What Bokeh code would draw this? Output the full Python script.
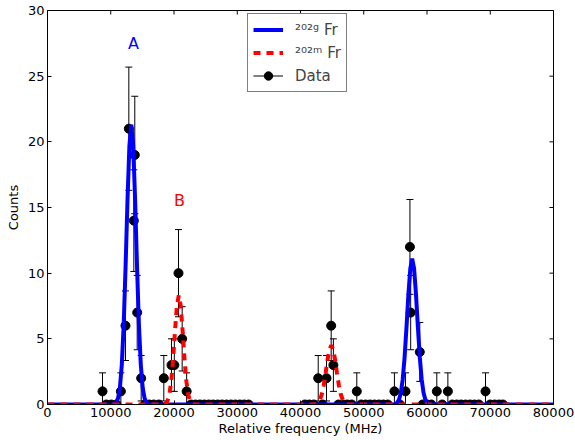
import numpy as np
from bokeh.plotting import figure
from bokeh.models import (ColumnDataSource, Legend, LegendItem,
                          Range1d, FixedTicker)
from bokeh.core.properties import value
from bokeh.embed import file_html
from bokeh.resources import INLINE

# ---- measured data (non-zero counts) ----
data_freq = [8700, 11600, 12330, 12860, 13650, 13800, 14180, 14810,
             18390, 19600, 20050, 20710, 21290, 22000,
             42800, 44110, 44850, 45200, 48900,
             54850, 56600, 57300, 57420, 58860, 61550, 63300, 69250]
data_counts = [1, 1, 6, 21, 14, 19, 7, 2,
               2, 3, 3, 10, 5, 1,
               2, 2, 6, 3, 1,
               1, 1, 12, 7, 4, 1, 1, 1]
data_err = [1.41, 1.41, 2.65, 4.69, 3.87, 4.47, 2.83, 1.73,
            1.73, 2.0, 2.0, 3.32, 2.45, 1.41,
            1.73, 1.73, 2.65, 2.0, 1.41,
            1.41, 1.41, 3.61, 2.83, 2.24, 1.41, 1.41, 1.41]
# ---- measured data (zero counts) ----
zero_freq = [9300, 10100, 10900, 15400, 16100, 16800, 17600,
             22700, 23400, 24100, 24800, 25500, 26200, 26900, 27600,
             28300, 29000, 29700, 30400, 31100, 31800,
             40700, 41400, 42100, 43500, 46000, 46700, 47400, 48100,
             49600, 50300, 51000, 51700, 52400, 53100, 53800, 55700,
             59300, 60000, 60700, 62400, 64000, 64700, 65400, 66100,
             66800, 67500, 68200, 70000, 70700, 71400, 72000]
freq_err = 350

# ---- fitted curves ----
fit_g_freq = [0, 10550, 10850, 11150, 11450, 11750, 12050, 12350, 12650, 12950,
              13250, 13550, 13850, 14150, 14450, 14750, 15050, 15350, 15650, 15950,
              54960, 55260, 55560, 55860, 56160, 56460, 56760, 57060, 57360,
              57660, 57960, 58260, 58560, 58860, 59160, 59460, 59760, 60060, 60360,
              80000]
fit_g_counts = [0, 0, 0.15, 0.47, 1.29, 3.04, 6.12, 10.57, 15.60, 19.70,
                21.3, 19.70, 15.60, 10.57, 6.12, 3.04, 1.29, 0.47, 0.15, 0,
                0, 0.12, 0.35, 0.88, 1.91, 3.60, 5.90, 8.38, 10.35,
                11.1, 10.35, 8.38, 5.90, 3.60, 1.91, 0.88, 0.35, 0.12, 0,
                0]
fit_m_freq = [0, 18360, 18660, 18960, 19260, 19560, 19860, 20160, 20460,
              20760, 21060, 21360, 21660, 21960, 22260, 22560, 22860, 23160,
              42170, 42470, 42770, 43070, 43370, 43670, 43970, 44270, 44570,
              44870, 45170, 45470, 45770, 46070, 46370, 46670, 46970, 47270, 47570,
              80000]
fit_m_counts = [0, 0, 0.07, 0.25, 0.73, 1.75, 3.46, 5.62, 7.53,
                8.3, 7.53, 5.62, 3.46, 1.75, 0.73, 0.25, 0.07, 0,
                0, 0.05, 0.14, 0.36, 0.78, 1.46, 2.39, 3.40, 4.19,
                4.5, 4.19, 3.40, 2.39, 1.46, 0.78, 0.36, 0.14, 0.05, 0,
                0]

peak_labels = ["A", "B"]
peak_label_freq = [13600, 20870]
peak_label_counts = [27.5, 15.5]
peak_label_colors = ["blue", "red"]

x_ticks = [0, 10000, 20000, 30000, 40000, 50000, 60000, 70000, 80000]
x_tick_labels = ["0", "10000", "20000", "30000", "40000", "50000", "60000", "70000", "80000"]
y_ticks = [0, 5, 10, 15, 20, 25, 30]
X_MAX = 80000
Y_MAX = 30

FONT = "DejaVu Sans"

all_freq = np.array(data_freq + zero_freq, dtype=float)
all_counts = np.array(data_counts + [0] * len(zero_freq), dtype=float)
all_err = np.array(data_err + [0] * len(zero_freq), dtype=float)

src = ColumnDataSource(dict(
    x=all_freq, y=all_counts,
    ylo=all_counts - all_err, yhi=all_counts + all_err,
    xlo=all_freq - freq_err, xhi=all_freq + freq_err,
))

p = figure(width=575, height=440, output_backend="svg", toolbar_location=None,
           x_range=Range1d(0, X_MAX), y_range=Range1d(0, Y_MAX),
           min_border_left=47, min_border_right=22, min_border_top=10,
           min_border_bottom=36, background_fill_color="white",
           border_fill_color="white")
p.xgrid.visible = False
p.ygrid.visible = False
p.outline_line_color = "black"
p.outline_line_width = 1

# error bars
p.segment(x0="x", y0="ylo", x1="x", y1="yhi", source=src, line_color="black", line_width=1)
p.scatter(x="x", y="yhi", source=src, marker="dash", size=7, line_color="black", line_width=1)
p.scatter(x="x", y="ylo", source=src, marker="dash", size=7, line_color="black", line_width=1)
hbar = p.segment(x0="xlo", y0="y", x1="xhi", y1="y", source=src, line_color="black", line_width=1)
p.scatter(x="xlo", y="y", source=src, marker="dash", angle=np.pi / 2, size=7, line_color="black", line_width=1)
p.scatter(x="xhi", y="y", source=src, marker="dash", angle=np.pi / 2, size=7, line_color="black", line_width=1)
pts = p.scatter(x="x", y="y", source=src, size=9, fill_color="black", line_color="black")

# fits
g_r = p.line(fit_g_freq, fit_g_counts, line_color="blue", line_width=4)
m_r = p.line(fit_m_freq, fit_m_counts, line_color="red", line_width=4, line_dash="7 6")

# peak labels
lsrc = ColumnDataSource(dict(x=peak_label_freq, y=peak_label_counts, t=peak_labels, c=peak_label_colors))
p.text(x="x", y="y", text="t", text_color="c", source=lsrc, text_align="center",
       text_baseline="middle", text_font=value(FONT), text_font_size="16px")

# inward ticks on top and right edges (half of each mark is clipped by the frame)
p.scatter(x_ticks, [Y_MAX] * len(x_ticks), marker="dash", angle=np.pi / 2, size=8,
          line_color="black", line_width=1)
p.scatter([X_MAX] * len(y_ticks), y_ticks, marker="dash", size=8,
          line_color="black", line_width=1)

# axes
for ax in (p.xaxis[0], p.yaxis[0]):
    ax.major_tick_in = 4
    ax.major_tick_out = 0
    ax.minor_tick_line_color = None
    ax.axis_line_color = "black"
    ax.major_label_text_font = FONT
    ax.major_label_text_font_size = "13px"
    ax.major_label_text_color = "black"
    ax.axis_label_text_font = FONT
    ax.axis_label_text_font_style = "normal"
    ax.axis_label_text_color = "black"
    ax.major_label_standoff = 3

p.xaxis.ticker = FixedTicker(ticks=x_ticks)
p.xaxis.major_label_overrides = {t: l for t, l in zip(x_ticks, x_tick_labels)}
p.yaxis.ticker = FixedTicker(ticks=y_ticks)
p.xaxis.axis_label = "Relative frequency (MHz)"
p.yaxis.axis_label = "Counts"
p.xaxis.axis_label_text_font_size = "13px"
p.yaxis.axis_label_text_font_size = "13px"
p.xaxis.axis_label_standoff = 1
p.yaxis.axis_label_standoff = 4

legend = Legend(items=[
    LegendItem(label="\u00b2\u2070\u00b2\u1d4d Fr", renderers=[g_r]),
    LegendItem(label="\u00b2\u2070\u00b2\u1d50 Fr", renderers=[m_r]),
    LegendItem(label="Data", renderers=[hbar, pts]),
], location=(200, 312), orientation="vertical")
legend.label_text_font = FONT
legend.label_text_font_size = "15px"
legend.border_line_color = "black"
legend.border_line_width = 1
legend.border_radius = 0
legend.background_fill_alpha = 1
legend.glyph_width = 30
legend.glyph_height = 21
legend.spacing = 2
legend.padding = 5
legend.margin = 0
legend.label_standoff = 12
p.add_layout(legend, "center")

open("out.html", "w").write(file_html(p, INLINE))
